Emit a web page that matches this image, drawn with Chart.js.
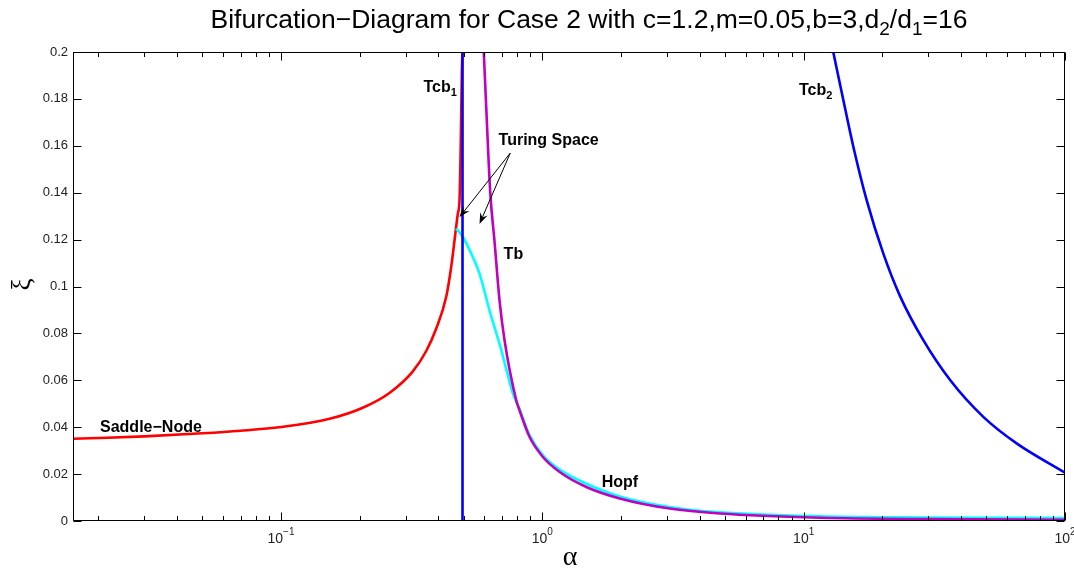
<!DOCTYPE html>
<html>
<head>
<meta charset="utf-8">
<script src="https://cdn.jsdelivr.net/npm/chart.js@4/dist/chart.umd.min.js"></script>
<style>
  html, body { margin: 0; padding: 0; background: #fff; }
  #wrap { width: 1074px; height: 571px; position: relative; }
</style>
</head>
<body>
<div id="wrap"><canvas id="bif"></canvas></div>
<script>
// values
const saddleX = [0.016, 0.02, 0.03, 0.05, 0.07, 0.1, 0.1535, 0.2055, 0.26, 0.319, 0.36, 0.393, 0.4286, 0.448, 0.4646, 0.475, 0.482, 0.4864, 0.492, 0.4945];
const saddleY = [0.0351, 0.0354, 0.0361, 0.0374, 0.0385, 0.0401, 0.0436, 0.0483, 0.0546, 0.0637, 0.0726, 0.0822, 0.0955, 0.1083, 0.1225, 0.1311, 0.1367, 0.1552, 0.1908, 0.2];

const hopfX = [0.468, 0.4965, 0.542, 0.575, 0.628, 0.697, 0.772, 0.818, 0.894, 1.005, 1.165, 1.474, 1.977, 3.07, 4.78, 11.5, 30, 100];
const hopfY = [0.1247, 0.1211, 0.1126, 0.1055, 0.0898, 0.0728, 0.0543, 0.0478, 0.0365, 0.0280, 0.0219, 0.0159, 0.0105, 0.0060, 0.0037, 0.0020, 0.0015, 0.0013];

const tbX = [0.597, 0.610, 0.632, 0.656, 0.686, 0.717, 0.795, 0.818, 0.894, 1.005, 1.165, 1.474, 1.977, 3.07, 4.78, 11.5, 30, 100];
const tbY = [0.2, 0.1765, 0.140, 0.1195, 0.0940, 0.0770, 0.0514, 0.0472, 0.0358, 0.0273, 0.0209, 0.0145, 0.0096, 0.0053, 0.0032, 0.0014, 0.0008, 0.0005];

const tcb1X = [0.495, 0.495];
const tcb1Y = [0, 0.2];

const tcb2X = [12.98, 14.19, 15.5, 17.43, 20.18, 23.4, 28.7, 36.4, 48.8, 65.5, 100];
const tcb2Y = [0.2, 0.1794, 0.1595, 0.1367, 0.1140, 0.0958, 0.0771, 0.0600, 0.0443, 0.0330, 0.0206];

const xDecades = [0.1, 1, 10, 100];

const toPts = (xs, ys) => xs.map((x, i) => ({ x, y: ys[i] }));

function drawRich(ctx, parts, x, y, size, weight, family, align) {
    // parts: [text, isSub]
    const subSize = Math.round(size * 0.7);
    let total = 0;
    parts.forEach(p => {
        ctx.font = weight + ' ' + (p[1] ? subSize : size) + 'px ' + family;
        total += ctx.measureText(p[0]).width;
    });
    let cx = align === 'center' ? x - total / 2 : x;
    ctx.textAlign = 'left';
    ctx.textBaseline = 'alphabetic';
    parts.forEach(p => {
        ctx.font = weight + ' ' + (p[1] ? subSize : size) + 'px ' + family;
        ctx.fillText(p[0], cx, p[1] ? y + size * 0.25 : y);
        cx += ctx.measureText(p[0]).width;
    });
}

function arrow(ctx, x0, y0, x1, y1) {
    const ang = Math.atan2(y1 - y0, x1 - x0);
    const len = 11, wid = 4;
    const c = Math.cos(ang), s = Math.sin(ang);
    ctx.beginPath();
    ctx.moveTo(x0, y0);
    ctx.lineTo(x1 - c * 5, y1 - s * 5);
    ctx.stroke();
    ctx.beginPath();
    ctx.moveTo(x1, y1);
    ctx.lineTo(x1 - len * c + wid * s, y1 - len * s - wid * c);
    ctx.lineTo(x1 - 7 * c, y1 - 7 * s);
    ctx.lineTo(x1 - len * c - wid * s, y1 - len * s + wid * c);
    ctx.closePath();
    ctx.fill();
}

const overlay = {
    id: 'overlay',
    afterDraw(chart) {
        const { ctx, chartArea: a, scales } = chart;
        const xs = scales.x, ys = scales.y;
        const L = Math.round(a.left) + 0.5, R = Math.round(a.right) - 0.5;
        const T = Math.round(a.top) + 0.5, B = Math.round(a.bottom) - 0.5;
        ctx.save();
        ctx.strokeStyle = '#000';
        ctx.fillStyle = '#000';
        ctx.lineWidth = 1;
        ctx.strokeRect(L, T, R - L, B - T);

        // y ticks inside, both sides
        ctx.beginPath();
        ys.ticks.forEach(t => {
            const py = Math.round(ys.getPixelForValue(t.value)) + 0.5;
            ctx.moveTo(L, py); ctx.lineTo(L + 8, py);
            ctx.moveTo(R, py); ctx.lineTo(R - 8, py);
        });
        // x ticks (log, major + minor), top and bottom
        for (let e = -2; e <= 2; e++) {
            for (let m = 1; m <= 9; m++) {
                const v = m * Math.pow(10, e);
                if (v < xs.min || v > xs.max) continue;
                const px = Math.round(xs.getPixelForValue(v)) + 0.5;
                const len = m === 1 ? 8 : 4.5;
                ctx.moveTo(px, B); ctx.lineTo(px, B - len);
                ctx.moveTo(px, T); ctx.lineTo(px, T + len);
            }
        }
        ctx.stroke();

        // decade labels 10^n
        ctx.fillStyle = '#222';
        const f = '"Liberation Sans", Arial, sans-serif';
        xDecades.forEach(v => {
            const px = xs.getPixelForValue(v);
            const ex = Math.round(Math.log10(v));
            const sup = ex < 0 ? '\u2212' + (-ex) : String(ex);
            ctx.font = '14px ' + f;
            const w1 = ctx.measureText('10').width;
            ctx.font = '10px ' + f;
            const w2 = ctx.measureText(sup).width;
            const x0 = px - (w1 + w2) / 2;
            ctx.textAlign = 'left';
            ctx.textBaseline = 'alphabetic';
            ctx.font = '14px ' + f;
            ctx.fillText('10', x0, 543);
            ctx.font = '10px ' + f;
            ctx.fillText(sup, x0 + w1, 535);
        });

        // axis titles
        ctx.fillStyle = '#000';
        ctx.font = '28px "Liberation Serif", "DejaVu Serif", serif';
        ctx.textAlign = 'center';
        ctx.fillText('\u03b1', (a.left + a.right) / 2 + 1, 565);
        ctx.save();
        ctx.translate(30, (a.top + a.bottom) / 2 - 2);
        ctx.rotate(-Math.PI / 2);
        ctx.font = '27px "Liberation Serif", "DejaVu Serif", serif';
        ctx.textAlign = 'center';
        ctx.fillText('\u03be', 0, 0);
        ctx.restore();

        // title
        drawRich(ctx, [['Bifurcation\u2212Diagram for Case 2 with c=1.2,m=0.05,b=3,d', false], ['2', true], ['/d', false], ['1', true], ['=16', false]],
            589, 28, 26.5, 'normal', f, 'center');

        // curve labels
        const lab = (parts, xv, yv) => drawRich(ctx, parts, xs.getPixelForValue(xv), ys.getPixelForValue(yv), 16, 'bold', f, 'left');
        lab([['Saddle\u2212Node', false]], 0.0203, 0.0378);
        lab([['Tcb', false], ['1', true]], 0.351, 0.1831);
        lab([['Tcb', false], ['2', true]], 9.59, 0.1816);
        lab([['Turing Space', false]], 0.680, 0.1605);
        lab([['Tb', false]], 0.711, 0.1116);
        lab([['Hopf', false]], 1.687, 0.0145);

        // arrows to the Turing space
        const sx = xs.getPixelForValue(0.754), sy = ys.getPixelForValue(0.1569);
        arrow(ctx, sx, sy, xs.getPixelForValue(0.482), ys.getPixelForValue(0.1296));
        arrow(ctx, sx, sy, xs.getPixelForValue(0.575), ys.getPixelForValue(0.1267));
        ctx.restore();
    }
};

const lineDs = (label, data, color) => ({
    label, data, borderColor: color, backgroundColor: color,
    showLine: true, pointRadius: 0, borderWidth: 2.6, fill: false,
    cubicInterpolationMode: 'monotone'
});

new Chart(document.getElementById('bif'), {
    type: 'scatter',
    data: {
        datasets: [
            lineDs('Tcb1', toPts(tcb1X, tcb1Y), '#0000ff'),
            lineDs('Tcb2', toPts(tcb2X, tcb2Y), '#0000ff'),
            lineDs('Tb', toPts(tbX, tbY), 'rgb(191,0,191)'),
            lineDs('Hopf', toPts(hopfX, hopfY), '#00ffff'),
            lineDs('Saddle-Node', toPts(saddleX, saddleY), '#ff0000')
        ]
    },
    options: {
        responsive: true,
        maintainAspectRatio: false,
        animation: false,
        layout: { padding: { top: 52, right: 9, left: 0, bottom: 0 } },
        plugins: { legend: { display: false }, tooltip: { enabled: false } },
        scales: {
            x: {
                type: 'logarithmic',
                min: 0.016,
                max: 100,
                grid: { display: false, drawTicks: false },
                border: { display: false },
                ticks: { display: false },
                afterFit: s => { s.height = 50; }
            },
            y: {
                type: 'linear',
                min: 0,
                max: 0.2,
                grid: { display: false, drawTicks: false },
                border: { display: false },
                ticks: {
                    stepSize: 0.02,
                    padding: 5,
                    color: '#222',
                    font: { family: '"Liberation Sans", Arial, sans-serif', size: 13 },
                    callback: v => String(+(+v).toFixed(2))
                },
                afterFit: s => { s.width = 73; }
            }
        }
    },
    plugins: [overlay]
});
</script>
</body>
</html>
